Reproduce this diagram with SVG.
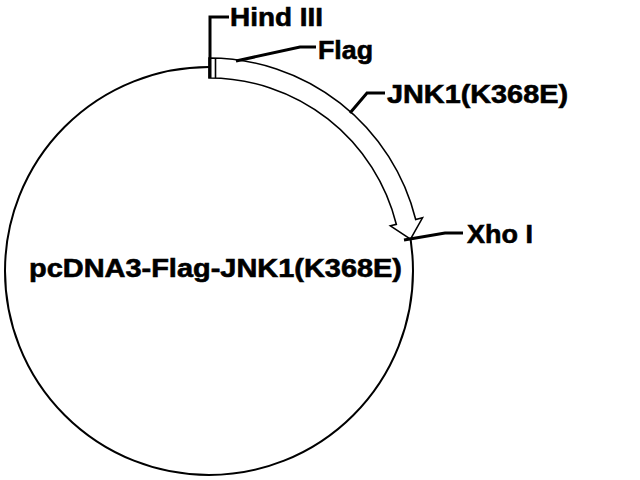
<svg xmlns="http://www.w3.org/2000/svg" width="640" height="480" viewBox="0 0 640 480">
<style>
text{font-family:"Liberation Sans",Arial,sans-serif;font-weight:bold;font-size:26px;fill:#000;stroke:#000;stroke-width:0.6}
.lead{fill:none;stroke:#000;stroke-width:3;stroke-linejoin:miter}
</style>
<rect width="640" height="480" fill="#fff"/>
<g id="plasmid">
<circle cx="209" cy="271" r="204" fill="none" stroke="#000" stroke-width="2"/>
<text x="29" y="277" textLength="373" lengthAdjust="spacingAndGlyphs">pcDNA3-Flag-JNK1(K368E)</text>
</g>
<g id="insert">
<path d="M209,58 A213,213 0 0 1 415.7,219.5 L422.5,217.8 L410.5,239.1 L390.4,225.8 L396.3,224.3 A193,193 0 0 0 209,78 Z" fill="#fff" stroke="#000" stroke-width="1.6"/>
<line x1="215.5" y1="58" x2="215.5" y2="78" stroke="#000" stroke-width="1.6"/>
</g>
<g id="connectors">
<polyline class="lead" points="210,78 210,17 229,17"/>
<polyline class="lead" points="236,61 300,47 316,47"/>
<polyline class="lead" points="350,113 367,93 385,93"/>
<polyline class="lead" points="404,240 445,233 463,233"/>
</g>
<g id="label-hind">
<text x="230" y="26" textLength="93" lengthAdjust="spacingAndGlyphs">Hind III</text>
</g>
<g id="label-flag">
<text x="318" y="59" textLength="55" lengthAdjust="spacingAndGlyphs">Flag</text>
</g>
<g id="label-jnk">
<text x="387" y="103" textLength="181" lengthAdjust="spacingAndGlyphs">JNK1(K368E)</text>
</g>
<g id="label-xho">
<text x="467" y="243" textLength="66" lengthAdjust="spacingAndGlyphs">Xho I</text>
</g>
</svg>
